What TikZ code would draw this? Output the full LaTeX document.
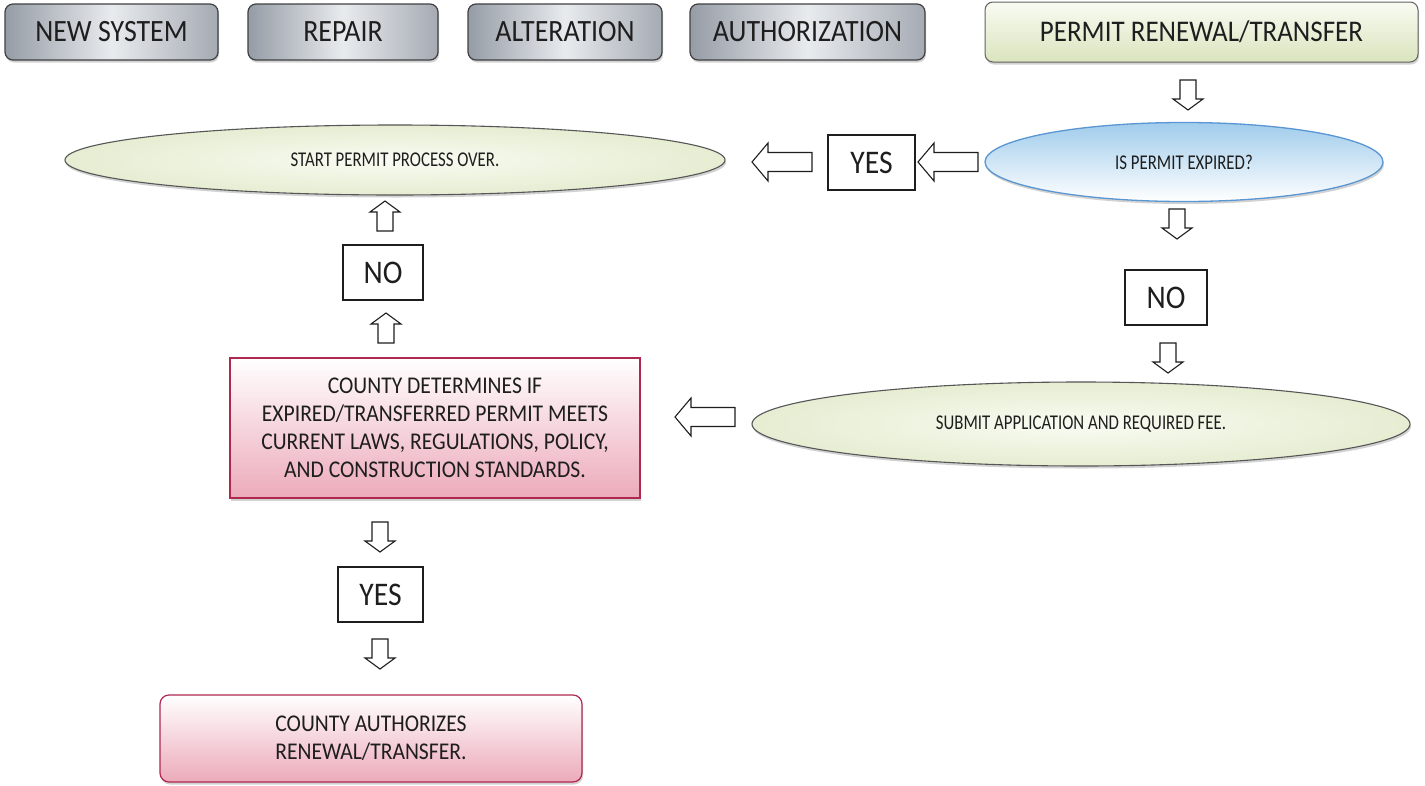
\documentclass[tikz,border=0pt]{standalone}
\usepackage{fontspec}
\setmainfont{Carlito}
\newfontfamily\cfont[FakeStretch=0.9]{Carlito}
\newfontfamily\efont[FakeStretch=0.8]{Carlito}
\usetikzlibrary{shapes.geometric,shadows}
\definecolor{greyedge}{RGB}{150,156,166}
\definecolor{greymid}{RGB}{232,235,238}
\definecolor{greenpale}{RGB}{249,251,242}
\definecolor{greenedge}{RGB}{218,228,190}
\definecolor{greenell}{RGB}{230,237,210}
\definecolor{bluetop}{RGB}{160,204,236}
\definecolor{blueline}{RGB}{90,150,210}
\definecolor{pinkbot}{RGB}{236,170,186}
\definecolor{pinkline}{RGB}{176,40,80}
\definecolor{ink}{RGB}{30,30,30}
\tikzset{
  arrowline/.style={draw=ink,line width=1.1pt,fill=white,line join=miter},
  varr/.pic={\path[arrowline] (-15,-8) -- (4,-8) -- (4,-15) -- (15,0) -- (4,15) -- (4,8) -- (-15,8) -- cycle;},
  harr/.pic={\path[arrowline] (-30,-9.5) -- (14,-9.5) -- (14,-19) -- (30,0) -- (14,19) -- (14,9.5) -- (-30,9.5) -- cycle;},
  greybox/.style={draw=ink!85,line width=1.2pt,rounded corners=8pt,minimum height=56pt,
    left color=greyedge,right color=greyedge!85,middle color=greymid,
    drop shadow={opacity=0.35,shadow xshift=1pt,shadow yshift=-2.5pt},
    font=\cfont\fontsize{31}{34}\selectfont,text=ink},
  greenbox/.style={draw=ink!70,line width=1pt,rounded corners=8pt,minimum height=60pt,
    top color=greenpale,bottom color=greenedge,
    drop shadow={opacity=0.35,shadow xshift=1pt,shadow yshift=-2.5pt},
    font=\cfont\fontsize{30}{34}\selectfont,text=ink},
  greenell/.style={ellipse,draw=ink!75,line width=1.1pt,inner sep=0pt,
    inner color=greenpale,outer color=greenell,
    drop shadow={opacity=0.35,shadow xshift=1pt,shadow yshift=-2.5pt},
    font=\efont\fontsize{21}{24}\selectfont,text=ink},
  blueell/.style={ellipse,draw=blueline,line width=1.3pt,inner sep=0pt,
    top color=bluetop,bottom color=white,
    drop shadow={opacity=0.35,shadow xshift=1pt,shadow yshift=-2.5pt},
    font=\efont\fontsize{21}{24}\selectfont,text=ink},
  pinkbox/.style={draw=pinkline,line width=1.2pt,top color=white,bottom color=pinkbot,
    drop shadow={opacity=0.35,shadow xshift=1pt,shadow yshift=-2.5pt},
    align=center,font=\cfont\fontsize{24}{28}\selectfont,text=ink},
  answer/.style={draw=ink,line width=1.2pt,fill=white,minimum width=84pt,minimum height=55pt,
    inner sep=0pt,font=\cfont\fontsize{33}{36}\selectfont,text=ink},
}
\begin{document}
\begin{tikzpicture}[x=1pt,y=-1pt]
\useasboundingbox (0,0) rectangle (1425,785);
\fill[white] (0,0) rectangle (1425,785);
% top boxes
\node[greybox,minimum width=213pt] (ns) at (111.5,32) {NEW SYSTEM};
\node[greybox,minimum width=190pt] (rp) at (343,32) {REPAIR};
\node[greybox,minimum width=194pt] (al) at (565,32) {ALTERATION};
\node[greybox,minimum width=235pt] (au) at (807.5,32) {AUTHORIZATION};
\node[greenbox,minimum width=433pt] (pr) at (1201.5,32) {PERMIT RENEWAL/TRANSFER};
% ellipses
\node[blueell,minimum width=398pt,minimum height=79pt] (exp) at (1184,162) {IS PERMIT EXPIRED?};
\node[greenell,minimum width=660pt,minimum height=70pt] (start) at (395,160) {START PERMIT PROCESS OVER.};
\node[greenell,minimum width=658pt,minimum height=84pt] (submit) at (1081,424) {SUBMIT APPLICATION AND REQUIRED FEE.};
% answers
\node[answer,minimum width=87pt] (yes1) at (871.5,162.5) {YES};
\node[answer,minimum width=82pt] (no1) at (1166,297.5) {NO};
\node[answer,minimum width=80pt] (no2) at (383,272.5) {NO};
\node[answer,minimum width=85pt] (yes2) at (380.5,594.5) {YES};
% pink boxes
\node[pinkbox,minimum width=410pt,minimum height=140pt] (county) at (435,428)
  {COUNTY DETERMINES IF\\EXPIRED/TRANSFERRED PERMIT MEETS\\CURRENT LAWS, REGULATIONS, POLICY,\\AND CONSTRUCTION STANDARDS.};
\node[pinkbox,rounded corners=9pt,minimum width=422pt,minimum height=87pt] (auth) at (371,738.5)
  {COUNTY AUTHORIZES\\RENEWAL/TRANSFER.};
% block arrows
\pic[rotate=-90] (a1) at (1188,95) {varr};
\pic[rotate=180] (a2) at (948,162) {harr};
\pic[rotate=180] (a3) at (782,162) {harr};
\pic[rotate=-90] (a4) at (1177,224) {varr};
\pic[rotate=-90] (a5) at (1168,358) {varr};
\pic[rotate=180] (a6) at (705,417) {harr};
\pic[rotate=90] (a7) at (386,328) {varr};
\pic[rotate=90] (a8) at (385,216) {varr};
\pic[rotate=-90] (a9) at (380,537) {varr};
\pic[rotate=-90] (a10) at (380,654) {varr};
\end{tikzpicture}
\end{document}
